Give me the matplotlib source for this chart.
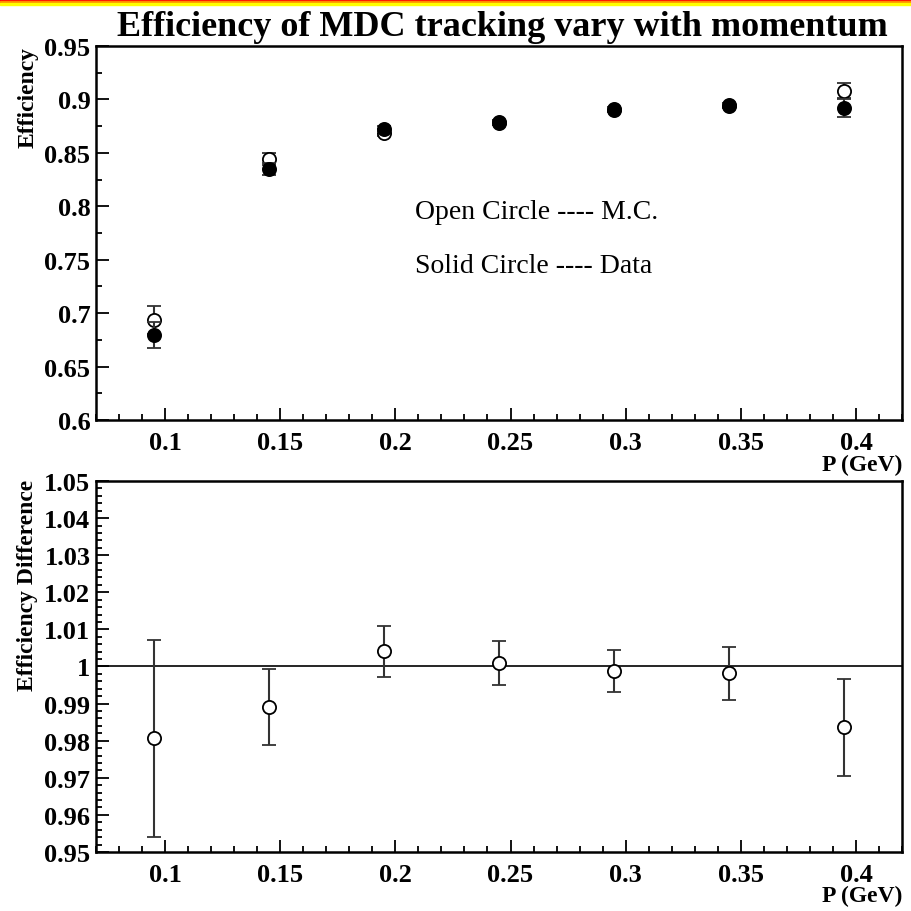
import numpy as np
import matplotlib
matplotlib.use("Agg")
import matplotlib.pyplot as plt
from matplotlib.patches import Rectangle
from matplotlib.ticker import MultipleLocator, FuncFormatter

#### __data__ ####

momentum = [0.095, 0.145, 0.195, 0.245, 0.295, 0.345, 0.395]

# efficiency, Monte Carlo (open) and data (solid)
eff_mc = [0.6936, 0.8443, 0.8690, 0.8783, 0.8908, 0.8950, 0.9082]
eff_mc_err = [0.013, 0.006, 0.003, 0.002, 0.002, 0.002, 0.007]
eff_data = [0.6796, 0.8349, 0.8723, 0.8788, 0.8900, 0.8940, 0.8920]
eff_data_err = [0.0125, 0.0055, 0.003, 0.002, 0.002, 0.002, 0.008]

# ratio of efficiencies with asymmetric errors
ratio = [0.9807, 0.9892, 1.0042, 1.0009, 0.9987, 0.9982, 0.9836]
ratio_up = [1.0071, 0.9994, 1.0109, 1.0069, 1.0044, 1.0053, 0.9967]
ratio_lo = [0.9541, 0.9789, 0.9972, 0.9950, 0.9930, 0.9911, 0.9704]

#### __style__ ####

plt.rcParams["font.family"] = ["Liberation Serif", "DejaVu Serif"]
plt.rcParams["font.weight"] = "bold"
plt.rcParams["axes.linewidth"] = 1.8

W, H = 911, 912
fig = plt.figure(figsize=(W / 100, H / 100), dpi=100)

# coloured stripe along the top edge
for i, c in enumerate(["#ff0000", "#ff8c00", "#ffff00"]):
    fig.patches.append(Rectangle((0, 1 - (i + 1) * 2.0 / H), 1, 2.0 / H,
                                 transform=fig.transFigure, color=c, zorder=0))


def style_axis(ax, ymajor, yminor, fmt):
    ax.set_xlim(0.07, 0.42)
    ax.xaxis.set_major_locator(MultipleLocator(0.05))
    ax.xaxis.set_minor_locator(MultipleLocator(0.01))
    ax.yaxis.set_major_locator(MultipleLocator(ymajor))
    ax.yaxis.set_minor_locator(MultipleLocator(yminor))
    ax.xaxis.set_major_formatter(FuncFormatter(lambda v, p: f"{v:g}"))
    ax.yaxis.set_major_formatter(FuncFormatter(fmt))
    ax.tick_params(which="both", direction="in", top=False, right=False,
                   labelsize=19, width=1.3)
    ax.tick_params(which="major", length=9)
    ax.tick_params(which="minor", length=4.5)
    ax.tick_params(axis="x", pad=8)
    ax.tick_params(axis="y", pad=4)
    for lab in ax.get_xticklabels() + ax.get_yticklabels():
        lab.set_fontweight("bold")


#### __top panel: efficiencies__ ####

ax1 = fig.add_axes([96 / W, 1 - 421 / H, 806 / W, 374 / H])
ax1.set_ylim(0.6, 0.95)
style_axis(ax1, 0.05, 0.025, lambda v, p: f"{v:g}")

ax1.errorbar(momentum, eff_mc, yerr=eff_mc_err, fmt="o", ms=9.5,
             mfc="white", mec="black", mew=1.3, ecolor="#333333",
             elinewidth=1.5, capsize=5, capthick=1.5, zorder=3)
ax1.errorbar(momentum, eff_data, yerr=eff_data_err, fmt="o", ms=9.5,
             mfc="black", mec="black", mew=1.3, ecolor="#333333",
             elinewidth=1.5, capsize=5, capthick=1.5, zorder=4)

ax1.text(0.2085, 0.7947, "Open Circle ---- M.C.", fontsize=20,
         fontweight="normal", va="center", ha="left")
ax1.text(0.2085, 0.7450, "Solid Circle ---- Data", fontsize=20,
         fontweight="normal", va="center", ha="left")

fig.text(502 / W, 1 - 28 / H,
         "Efficiency of MDC tracking vary with momentum",
         fontsize=26, fontweight="bold", ha="center", va="center")
fig.text(28 / W, 1 - 47 / H, "Efficiency", rotation=90, fontsize=17,
         fontweight="bold", ha="center", va="top")
fig.text(902 / W, 1 - 465 / H, "P (GeV)", fontsize=17,
         fontweight="bold", ha="right", va="center")

#### __bottom panel: efficiency ratio__ ####

ax2 = fig.add_axes([96 / W, 1 - 853 / H, 806 / W, 371 / H])
ax2.set_ylim(0.95, 1.05)
style_axis(ax2, 0.01, 0.002, lambda v, p: f"{v:.2f}".rstrip("0").rstrip("."))

ax2.axhline(1.0, color="black", lw=1.2, zorder=1)
r = np.array(ratio)
yerr = [r - np.array(ratio_lo), np.array(ratio_up) - r]
ax2.errorbar(momentum, ratio, yerr=yerr, fmt="o", ms=9.5,
             mfc="white", mec="black", mew=1.3, ecolor="#333333",
             elinewidth=1.5, capsize=5, capthick=1.5, zorder=3)

fig.text(28 / W, 1 - 480 / H, "Efficiency Difference", rotation=90,
         fontsize=17, fontweight="bold", ha="center", va="top")
fig.text(902 / W, 1 - 896 / H, "P (GeV)", fontsize=17,
         fontweight="bold", ha="right", va="center")

fig.savefig("out.png", dpi=100)
